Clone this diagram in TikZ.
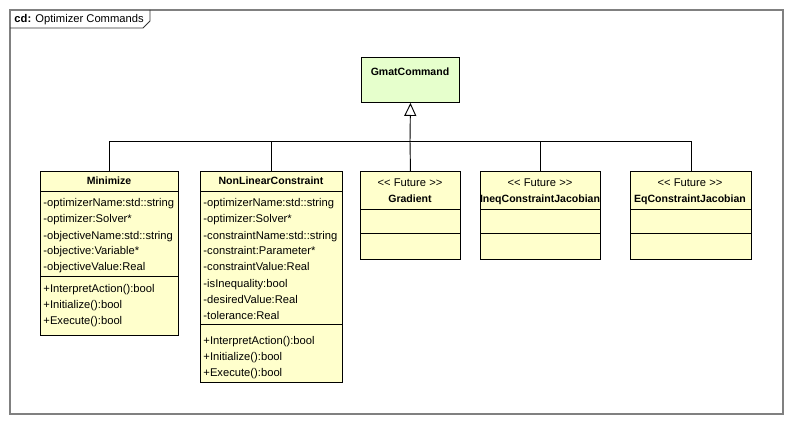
\documentclass[tikz,border=0pt]{standalone}
\usepackage{fontspec}
\setmainfont{Liberation Sans}
\usetikzlibrary{arrows.meta}
\definecolor{classfill}{RGB}{255,255,204}
\definecolor{basefill}{RGB}{230,255,204}
\definecolor{framegray}{RGB}{128,128,128}
\newcommand{\membersize}{\fontsize{8.4pt}{10pt}\selectfont}
\newcommand{\titlesize}{\fontsize{7.9pt}{10pt}\selectfont\bfseries}
\tikzset{
  classbox/.style={draw, fill=classfill, inner sep=0pt, anchor=north west},
  member/.style={anchor=base west, inner sep=0pt, font=\membersize},
  title/.style={anchor=base, inner sep=0pt, font=\titlesize},
  stereo/.style={anchor=base, inner sep=0pt, font=\membersize},
  inherit/.style={-{Triangle[open, length=9.75pt, width=9pt, fill=white]}},
}
\begin{document}
\begin{tikzpicture}[x=0.75pt,y=0.75pt,yscale=-1,xscale=1,line width=0.7pt]
\useasboundingbox (0,0) rectangle (793,424);
%Shape: Frame 
\draw [framegray, line width=1.1pt] (10,10) rectangle (783,414);
\draw [black!80] (10,28) -- (143,28) -- (150,21) -- (150,10);
% Text Node
\node (frametitle) [anchor=base west, inner sep=0pt, font=\membersize] at (14,23) {\textbf{cd:} Optimizer Commands};
%Shape: Class GmatCommand 
\node (gmat) [classbox, fill=basefill, minimum width=73.5pt, minimum height=33.75pt] at (361,57) {};
\node (gmat-name) [title] at (410,76) {GmatCommand};
%Shape: Class Minimize 
\node (minimize) [classbox, minimum width=103.5pt, minimum height=123pt] at (40,171) {};
\draw (minimize.west |- 0,191) -- (minimize.east |- 0,191) ;
\draw (minimize.west |- 0,276) -- (minimize.east |- 0,276) ;
\node (min-name) [title] at (109,185) {Minimize};
\node (min-a1) [member] at (43,207) {-optimizerName:std::string};
\node (min-a2) [member] at (43,223) {-optimizer:Solver*};
\node (min-a3) [member] at (43,239) {-objectiveName:std::string};
\node (min-a4) [member] at (43,255) {-objective:Variable*};
\node (min-a5) [member] at (43,271) {-objectiveValue:Real};
\node (min-m1) [member] at (43,292) {+InterpretAction():bool};
\node (min-m2) [member] at (43,308) {+Initialize():bool};
\node (min-m3) [member] at (43,324) {+Execute():bool};
%Shape: Class NonLinearConstraint 
\node (nlc) [classbox, minimum width=106.5pt, minimum height=158.25pt] at (200,171) {};
\draw (nlc.west |- 0,191) -- (nlc.east |- 0,191) ;
\draw (nlc.west |- 0,324) -- (nlc.east |- 0,324) ;
\node (nlc-name) [title] at (271,185) {NonLinearConstraint};
\node (nlc-a1) [member] at (203,207) {-optimizerName:std::string};
\node (nlc-a2) [member] at (203,223) {-optimizer:Solver*};
\node (nlc-a3) [member] at (203,239) {-constraintName:std::string};
\node (nlc-a4) [member] at (203,255) {-constraint:Parameter*};
\node (nlc-a5) [member] at (203,271) {-constraintValue:Real};
\node (nlc-a6) [member] at (203,287) {-isInequality:bool};
\node (nlc-a7) [member] at (203,303) {-desiredValue:Real};
\node (nlc-a8) [member] at (203,319) {-tolerance:Real};
\node (nlc-m1) [member] at (203,344) {+InterpretAction():bool};
\node (nlc-m2) [member] at (203,360) {+Initialize():bool};
\node (nlc-m3) [member] at (203,376) {+Execute():bool};
%Shape: Class Gradient 
\node (grad) [classbox, minimum width=75pt, minimum height=66pt] at (360,171) {};
\draw (grad.west |- 0,209) -- (grad.east |- 0,209) ;
\draw (grad.west |- 0,233) -- (grad.east |- 0,233) ;
\node (grad-st) [stereo] at (410,187) {{<}{<} Future {>}{>}};
\node (grad-name) [title] at (410,203) {Gradient};
%Shape: Class IneqConstraintJacobian 
\node (ineq) [classbox, minimum width=90pt, minimum height=66pt] at (480,171) {};
\draw (ineq.west |- 0,209) -- (ineq.east |- 0,209) ;
\draw (ineq.west |- 0,233) -- (ineq.east |- 0,233) ;
\node (ineq-st) [stereo] at (540,187) {{<}{<} Future {>}{>}};
\node (ineq-name) [title] at (540,203) {IneqConstraintJacobian};
%Shape: Class EqConstraintJacobian 
\node (eq) [classbox, minimum width=90.75pt, minimum height=66pt] at (630,171) {};
\draw (eq.west |- 0,209) -- (eq.east |- 0,209) ;
\draw (eq.west |- 0,233) -- (eq.east |- 0,233) ;
\node (eq-st) [stereo] at (690,187) {{<}{<} Future {>}{>}};
\node (eq-name) [title] at (690,203) {EqConstraintJacobian};
%Straight Lines: generalization 
\coordinate (hub) at (410,141);
\draw (minimize.north) |- (hub) ;
\draw (nlc.north) |- (hub) ;
\draw (grad.north) -- (hub) ;
\draw (ineq.north) |- (hub) ;
\draw (eq.north) |- (hub) ;
\draw [inherit] (hub) -- (gmat.south) ;
\end{tikzpicture}
\end{document}
